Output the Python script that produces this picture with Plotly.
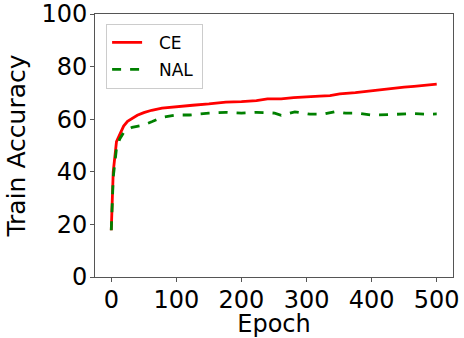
import plotly.graph_objects as go

ce_epochs = [0, 3, 8, 13, 19, 25, 32, 40, 50, 62, 78, 100, 125, 150, 176, 200, 223, 240, 261, 280, 300, 320, 336, 351, 375, 400, 429, 450, 465, 480, 490, 500]
ce_acc = [17.8, 40.0, 51.5, 54.5, 57.4, 59.2, 60.4, 61.5, 62.5, 63.4, 64.2, 64.8, 65.3, 65.8, 66.5, 66.7, 67.1, 67.7, 67.7, 68.2, 68.6, 68.8, 69.0, 69.6, 70.1, 70.8, 71.8, 72.2, 72.5, 72.9, 73.0, 73.3]

nal_epochs = [0, 3, 8, 13, 19, 25, 32, 40, 50, 63, 78, 100, 120, 150, 176, 200, 223, 240, 251, 261, 282, 305, 326, 344, 360, 378, 400, 429, 465, 485, 500]
nal_acc = [17.8, 38.0, 48.9, 52.5, 54.9, 56.0, 56.9, 57.4, 57.8, 59.1, 60.7, 61.6, 61.6, 62.3, 62.6, 62.3, 62.6, 62.5, 62.3, 61.5, 62.8, 61.9, 61.9, 62.9, 62.3, 62.3, 61.6, 61.8, 62.1, 61.9, 62.0]

x_ticks = [0, 100, 200, 300, 400, 500]
y_ticks = [0, 20, 40, 60, 80, 100]

fig = go.Figure()
fig.add_trace(go.Scatter(x=ce_epochs, y=ce_acc, mode="lines", name="\u2002\u2009CE\u2009", legendgroup="ce",
                         line=dict(color="#ff0000", width=2.8)))
fig.add_trace(go.Scatter(x=nal_epochs, y=nal_acc, mode="lines", name="\u2002\u2009NAL\u2009", legendgroup="nal",
                         line=dict(color="#008000", width=2.8, dash="dash")))

axis_common = dict(showgrid=False, zeroline=False, showline=True, mirror=True,
                   linecolor="#555", linewidth=1, ticks="outside", ticklen=4,
                   tickcolor="#555", tickfont=dict(size=24, color="black"),
                   automargin=False)

fig.update_layout(
    width=464, height=338,
    margin=dict(l=95, r=11, t=14, b=61),
    paper_bgcolor="white", plot_bgcolor="white",
    font=dict(family="DejaVu Sans", color="black"),
    xaxis=dict(range=[-25, 525], tickvals=x_ticks, ticklabelstandoff=-3,
               title=dict(text="Epoch", font=dict(size=24), standoff=5), **axis_common),
    yaxis=dict(range=[0, 100], tickvals=y_ticks, ticklabelstandoff=-2,
               title=dict(text="Train Accuracy", font=dict(size=25), standoff=8), **axis_common),
    legend=dict(x=0.031, y=0.963, xanchor="left", yanchor="top",
                bgcolor="rgba(255,255,255,0.8)", bordercolor="#ccc", borderwidth=1,
                font=dict(size=17), tracegroupgap=2),
    showlegend=True,
)

fig.write_html("out.html")
